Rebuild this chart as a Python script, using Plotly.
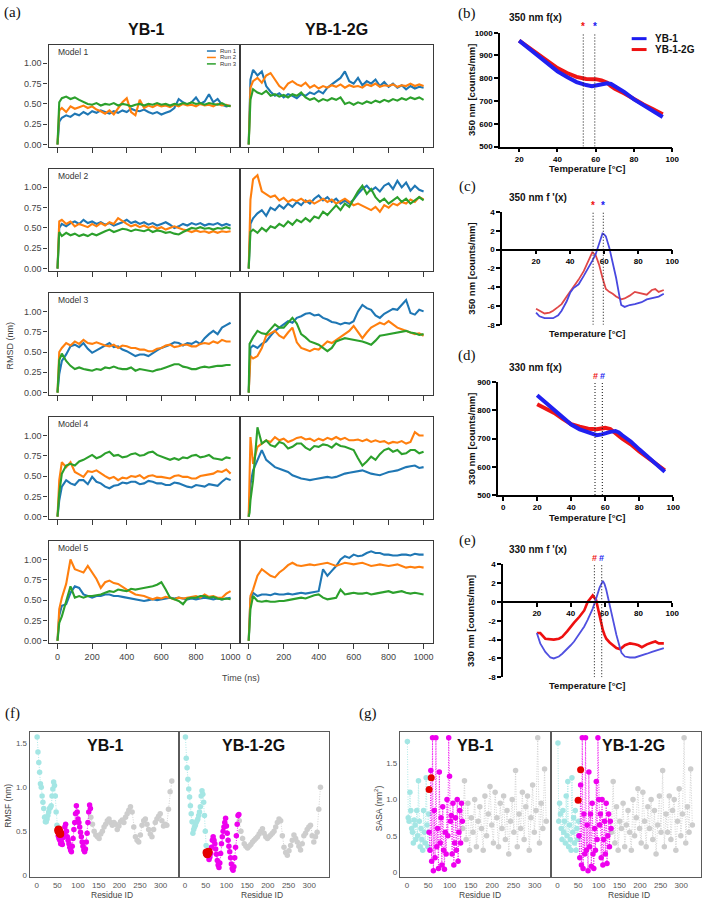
import plotly.graph_objects as go

W, H = 709, 905
SANS = "Liberation Sans, Arial, sans-serif"
SERIF = "Liberation Serif, Times New Roman, serif"

# ===================== (a) RMSD data =====================
T_NS = [0, 5, 10] + list(range(25, 1001, 25))
RUN_NAMES = ["Run 1", "Run 2", "Run 3"]
RUN_COLORS = ["#1f77b4", "#ff7f0e", "#2ca02c"]
MODEL_NAMES = ["Model 1", "Model 2", "Model 3", "Model 4", "Model 5"]
PROTEINS = ["YB-1", "YB-1-2G"]

m1_yb1_run1 = [0.00, 0.22, 0.28, 0.33, 0.36, 0.34, 0.38, 0.36, 0.40, 0.37, 0.41, 0.39, 0.42, 0.40, 0.38, 0.41, 0.39, 0.42, 0.40, 0.44, 0.42, 0.41, 0.43, 0.40, 0.38, 0.40, 0.37, 0.39, 0.41, 0.45, 0.56, 0.52, 0.49, 0.52, 0.58, 0.50, 0.53, 0.62, 0.52, 0.56, 0.49, 0.47, 0.48]
m1_yb1_run2 = [0.00, 0.30, 0.42, 0.45, 0.40, 0.47, 0.44, 0.46, 0.48, 0.45, 0.47, 0.43, 0.41, 0.38, 0.42, 0.37, 0.45, 0.52, 0.57, 0.40, 0.36, 0.55, 0.45, 0.48, 0.46, 0.49, 0.47, 0.48, 0.46, 0.49, 0.47, 0.50, 0.48, 0.49, 0.47, 0.50, 0.48, 0.49, 0.47, 0.50, 0.48, 0.49, 0.47]
m1_yb1_run3 = [0.00, 0.35, 0.52, 0.57, 0.59, 0.56, 0.58, 0.55, 0.52, 0.50, 0.49, 0.51, 0.48, 0.50, 0.49, 0.51, 0.48, 0.50, 0.49, 0.47, 0.49, 0.50, 0.48, 0.50, 0.49, 0.51, 0.49, 0.50, 0.48, 0.50, 0.49, 0.51, 0.50, 0.52, 0.50, 0.51, 0.49, 0.51, 0.50, 0.49, 0.51, 0.48, 0.47]
m1_2g_run1 = [0.00, 0.45, 0.80, 0.92, 0.85, 0.90, 0.72, 0.65, 0.60, 0.63, 0.58, 0.62, 0.60, 0.57, 0.62, 0.60, 0.64, 0.62, 0.66, 0.63, 0.70, 0.74, 0.78, 0.82, 0.90, 0.78, 0.75, 0.82, 0.73, 0.78, 0.75, 0.80, 0.72, 0.77, 0.71, 0.75, 0.70, 0.73, 0.68, 0.72, 0.69, 0.71, 0.70]
m1_2g_run2 = [0.00, 0.35, 0.70, 0.78, 0.82, 0.76, 0.85, 0.88, 0.80, 0.72, 0.68, 0.75, 0.78, 0.74, 0.72, 0.76, 0.70, 0.73, 0.69, 0.72, 0.70, 0.73, 0.71, 0.74, 0.70, 0.73, 0.71, 0.72, 0.70, 0.74, 0.72, 0.75, 0.71, 0.73, 0.72, 0.74, 0.71, 0.73, 0.72, 0.75, 0.72, 0.74, 0.72]
m1_2g_run3 = [0.00, 0.40, 0.55, 0.68, 0.64, 0.62, 0.66, 0.60, 0.62, 0.59, 0.61, 0.58, 0.62, 0.60, 0.64, 0.58, 0.55, 0.57, 0.53, 0.56, 0.54, 0.57, 0.55, 0.58, 0.50, 0.52, 0.49, 0.52, 0.50, 0.53, 0.51, 0.54, 0.52, 0.55, 0.53, 0.56, 0.54, 0.57, 0.55, 0.58, 0.56, 0.58, 0.55]

m2_yb1_run1 = [0.00, 0.35, 0.50, 0.55, 0.52, 0.56, 0.58, 0.55, 0.60, 0.56, 0.58, 0.55, 0.57, 0.54, 0.56, 0.53, 0.55, 0.57, 0.60, 0.56, 0.58, 0.55, 0.57, 0.54, 0.56, 0.53, 0.55, 0.57, 0.54, 0.50, 0.52, 0.55, 0.53, 0.56, 0.54, 0.56, 0.53, 0.55, 0.54, 0.56, 0.53, 0.55, 0.53]
m2_yb1_run2 = [0.00, 0.45, 0.58, 0.60, 0.55, 0.58, 0.52, 0.55, 0.53, 0.51, 0.55, 0.52, 0.56, 0.53, 0.57, 0.55, 0.62, 0.58, 0.55, 0.52, 0.54, 0.51, 0.53, 0.50, 0.52, 0.49, 0.51, 0.48, 0.50, 0.52, 0.50, 0.48, 0.47, 0.45, 0.47, 0.45, 0.46, 0.44, 0.46, 0.44, 0.46, 0.45, 0.46]
m2_yb1_run3 = [0.00, 0.30, 0.45, 0.40, 0.44, 0.41, 0.43, 0.40, 0.42, 0.40, 0.43, 0.41, 0.44, 0.46, 0.48, 0.45, 0.47, 0.49, 0.48, 0.46, 0.48, 0.47, 0.46, 0.48, 0.45, 0.47, 0.46, 0.44, 0.45, 0.43, 0.42, 0.45, 0.48, 0.50, 0.49, 0.51, 0.49, 0.50, 0.48, 0.50, 0.49, 0.51, 0.49]
m2_2g_run1 = [0.00, 0.35, 0.55, 0.62, 0.68, 0.72, 0.65, 0.75, 0.72, 0.78, 0.74, 0.80, 0.76, 0.82, 0.78, 0.84, 0.80, 0.86, 0.90, 0.84, 0.88, 0.82, 0.86, 0.80, 0.84, 0.80, 0.85, 0.92, 0.98, 1.02, 0.96, 1.00, 0.95, 1.02, 1.05, 0.98, 1.08, 1.00, 1.06, 0.96, 1.02, 0.97, 0.95]
m2_2g_run2 = [0.00, 0.50, 0.85, 1.10, 1.15, 0.95, 0.92, 0.88, 0.90, 0.84, 0.87, 0.82, 0.85, 0.83, 0.86, 0.82, 0.84, 0.80, 0.83, 0.86, 0.82, 0.85, 0.80, 0.83, 0.86, 0.82, 0.78, 0.80, 0.77, 0.74, 0.72, 0.76, 0.70, 0.78, 0.75, 0.80, 0.78, 0.82, 0.80, 0.85, 0.82, 0.88, 0.85]
m2_2g_run3 = [0.00, 0.30, 0.45, 0.48, 0.44, 0.50, 0.46, 0.52, 0.50, 0.55, 0.52, 0.58, 0.54, 0.60, 0.57, 0.62, 0.58, 0.64, 0.62, 0.70, 0.66, 0.72, 0.78, 0.72, 0.80, 0.76, 0.85, 0.95, 1.02, 0.92, 0.98, 0.88, 0.82, 0.86, 0.80, 0.84, 0.88, 0.82, 0.86, 0.80, 0.84, 0.88, 0.84]

m3_yb1_run1 = [0.00, 0.18, 0.23, 0.39, 0.47, 0.57, 0.59, 0.56, 0.61, 0.54, 0.49, 0.52, 0.55, 0.58, 0.61, 0.56, 0.57, 0.53, 0.51, 0.48, 0.45, 0.47, 0.47, 0.45, 0.49, 0.52, 0.55, 0.57, 0.59, 0.62, 0.61, 0.58, 0.61, 0.60, 0.63, 0.60, 0.67, 0.72, 0.76, 0.72, 0.80, 0.83, 0.86]
m3_yb1_run2 = [0.00, 0.35, 0.50, 0.55, 0.61, 0.58, 0.63, 0.60, 0.65, 0.61, 0.60, 0.62, 0.60, 0.58, 0.57, 0.59, 0.55, 0.58, 0.57, 0.55, 0.55, 0.53, 0.53, 0.51, 0.51, 0.54, 0.55, 0.58, 0.59, 0.56, 0.57, 0.59, 0.59, 0.57, 0.57, 0.60, 0.61, 0.60, 0.63, 0.61, 0.65, 0.63, 0.63]
m3_yb1_run3 = [0.00, 0.27, 0.40, 0.48, 0.39, 0.33, 0.29, 0.31, 0.29, 0.28, 0.27, 0.29, 0.28, 0.31, 0.30, 0.32, 0.30, 0.29, 0.29, 0.31, 0.27, 0.29, 0.28, 0.27, 0.26, 0.28, 0.29, 0.31, 0.33, 0.35, 0.35, 0.32, 0.31, 0.29, 0.29, 0.31, 0.32, 0.31, 0.32, 0.33, 0.33, 0.34, 0.34]
m3_2g_run1 = [0.00, 0.40, 0.55, 0.58, 0.55, 0.60, 0.63, 0.70, 0.76, 0.80, 0.84, 0.88, 0.86, 0.92, 0.94, 0.97, 0.98, 0.95, 0.96, 0.92, 0.90, 0.87, 0.86, 0.84, 0.86, 0.85, 0.88, 1.00, 1.08, 1.04, 1.02, 0.95, 0.92, 0.97, 1.00, 1.03, 1.02, 1.08, 1.14, 0.98, 0.96, 1.02, 1.00]
m3_2g_run2 = [0.00, 0.35, 0.45, 0.42, 0.45, 0.55, 0.70, 0.73, 0.76, 0.70, 0.67, 0.74, 0.80, 0.62, 0.55, 0.53, 0.51, 0.54, 0.53, 0.58, 0.63, 0.61, 0.65, 0.68, 0.72, 0.76, 0.82, 0.74, 0.67, 0.74, 0.80, 0.83, 0.86, 0.84, 0.88, 0.84, 0.80, 0.78, 0.76, 0.74, 0.72, 0.73, 0.70]
m3_2g_run3 = [0.00, 0.60, 0.62, 0.68, 0.76, 0.73, 0.72, 0.78, 0.84, 0.80, 0.80, 0.86, 0.92, 0.85, 0.72, 0.68, 0.63, 0.61, 0.59, 0.55, 0.51, 0.55, 0.63, 0.65, 0.67, 0.66, 0.65, 0.64, 0.63, 0.61, 0.59, 0.64, 0.70, 0.71, 0.72, 0.73, 0.74, 0.75, 0.76, 0.74, 0.73, 0.71, 0.72]

m4_yb1_run1 = [0.00, 0.12, 0.20, 0.37, 0.45, 0.41, 0.39, 0.45, 0.45, 0.40, 0.49, 0.43, 0.41, 0.37, 0.35, 0.38, 0.39, 0.42, 0.41, 0.43, 0.43, 0.40, 0.41, 0.44, 0.43, 0.41, 0.41, 0.39, 0.39, 0.42, 0.41, 0.39, 0.37, 0.36, 0.39, 0.38, 0.37, 0.40, 0.39, 0.38, 0.43, 0.47, 0.45]
m4_yb1_run2 = [0.00, 0.30, 0.45, 0.67, 0.61, 0.67, 0.55, 0.52, 0.49, 0.56, 0.55, 0.57, 0.53, 0.50, 0.47, 0.49, 0.45, 0.48, 0.47, 0.50, 0.49, 0.51, 0.47, 0.50, 0.51, 0.49, 0.49, 0.48, 0.47, 0.50, 0.51, 0.49, 0.49, 0.47, 0.47, 0.50, 0.51, 0.52, 0.53, 0.56, 0.55, 0.58, 0.53]
m4_yb1_run3 = [0.00, 0.15, 0.29, 0.53, 0.63, 0.65, 0.63, 0.68, 0.70, 0.73, 0.76, 0.72, 0.74, 0.78, 0.80, 0.75, 0.76, 0.73, 0.74, 0.77, 0.78, 0.75, 0.76, 0.79, 0.80, 0.76, 0.74, 0.72, 0.70, 0.72, 0.70, 0.73, 0.72, 0.75, 0.76, 0.73, 0.74, 0.76, 0.72, 0.71, 0.70, 0.73, 0.72]
m4_2g_run1 = [0.00, 0.20, 0.40, 0.57, 0.70, 0.82, 0.70, 0.65, 0.61, 0.59, 0.57, 0.55, 0.51, 0.49, 0.47, 0.46, 0.45, 0.46, 0.47, 0.48, 0.49, 0.48, 0.49, 0.51, 0.53, 0.54, 0.55, 0.56, 0.57, 0.55, 0.53, 0.52, 0.51, 0.53, 0.55, 0.56, 0.57, 0.59, 0.61, 0.62, 0.63, 0.60, 0.61]
m4_2g_run2 = [0.00, 0.50, 0.98, 0.65, 0.86, 0.90, 0.94, 0.92, 0.98, 0.94, 0.96, 0.92, 0.94, 0.97, 0.98, 0.95, 0.96, 0.93, 0.96, 0.94, 0.97, 0.95, 0.98, 0.95, 0.97, 0.94, 0.94, 0.95, 0.93, 0.95, 0.92, 0.94, 0.92, 0.93, 0.90, 0.92, 0.91, 0.93, 0.90, 0.92, 1.04, 1.00, 1.00]
m4_2g_run3 = [0.00, 0.05, 0.20, 0.45, 1.10, 0.90, 0.94, 0.88, 0.86, 0.92, 0.90, 0.84, 0.86, 0.90, 0.90, 0.85, 0.82, 0.87, 0.86, 0.89, 0.88, 0.85, 0.90, 0.87, 0.86, 0.84, 0.82, 0.72, 0.63, 0.68, 0.74, 0.70, 0.77, 0.82, 0.84, 0.80, 0.82, 0.77, 0.78, 0.82, 0.82, 0.78, 0.80]

m5_yb1_run1 = [0.00, 0.20, 0.31, 0.43, 0.45, 0.59, 0.67, 0.65, 0.57, 0.55, 0.53, 0.55, 0.55, 0.57, 0.57, 0.55, 0.55, 0.54, 0.53, 0.52, 0.51, 0.50, 0.49, 0.50, 0.51, 0.50, 0.51, 0.52, 0.53, 0.52, 0.53, 0.52, 0.51, 0.52, 0.51, 0.52, 0.53, 0.52, 0.51, 0.52, 0.51, 0.52, 0.53]
m5_yb1_run2 = [0.00, 0.25, 0.39, 0.53, 0.70, 1.00, 0.88, 0.86, 0.84, 0.92, 0.84, 0.76, 0.65, 0.72, 0.74, 0.71, 0.70, 0.66, 0.63, 0.60, 0.57, 0.56, 0.55, 0.53, 0.51, 0.53, 0.52, 0.54, 0.53, 0.51, 0.53, 0.52, 0.53, 0.54, 0.55, 0.53, 0.57, 0.54, 0.55, 0.53, 0.53, 0.58, 0.61]
m5_yb1_run3 = [0.00, 0.15, 0.22, 0.30, 0.47, 0.67, 0.53, 0.55, 0.53, 0.55, 0.55, 0.56, 0.57, 0.59, 0.61, 0.60, 0.63, 0.62, 0.61, 0.64, 0.63, 0.64, 0.65, 0.66, 0.67, 0.69, 0.72, 0.63, 0.53, 0.51, 0.49, 0.45, 0.52, 0.53, 0.53, 0.55, 0.55, 0.53, 0.54, 0.52, 0.51, 0.52, 0.51]
m5_2g_run1 = [0.00, 0.40, 0.52, 0.59, 0.55, 0.57, 0.57, 0.56, 0.58, 0.57, 0.57, 0.58, 0.57, 0.58, 0.59, 0.58, 0.59, 0.60, 0.61, 0.88, 0.80, 0.86, 0.92, 1.00, 1.04, 1.02, 1.06, 1.04, 1.05, 1.08, 1.10, 1.08, 1.08, 1.06, 1.06, 1.05, 1.05, 1.06, 1.06, 1.05, 1.07, 1.06, 1.06]
m5_2g_run2 = [0.00, 0.40, 0.55, 0.63, 0.80, 0.88, 0.84, 0.80, 0.78, 0.84, 0.88, 0.93, 0.96, 0.93, 0.92, 0.93, 0.94, 0.93, 0.94, 0.95, 0.96, 0.94, 0.92, 0.94, 0.96, 0.95, 0.94, 0.95, 0.96, 0.94, 0.92, 0.93, 0.94, 0.93, 0.92, 0.93, 0.94, 0.92, 0.90, 0.91, 0.90, 0.91, 0.90]
m5_2g_run3 = [0.00, 0.30, 0.39, 0.55, 0.49, 0.48, 0.49, 0.48, 0.48, 0.49, 0.49, 0.50, 0.51, 0.52, 0.53, 0.52, 0.54, 0.56, 0.57, 0.53, 0.51, 0.52, 0.53, 0.63, 0.57, 0.58, 0.59, 0.58, 0.58, 0.59, 0.57, 0.58, 0.59, 0.60, 0.61, 0.59, 0.60, 0.61, 0.59, 0.58, 0.59, 0.58, 0.57]

RMSD_TICKS = [0, 0.25, 0.5, 0.75, 1.0]
TIME_TICKS = [0, 200, 400, 600, 800, 1000]

# ===================== (b)-(e) nanoDSF data =====================
T_FX = [20, 25, 30, 35, 40, 45, 50, 55, 58, 60, 63, 66, 68, 70, 75, 80, 85, 90, 95]
f350_yb1 = [965, 930, 896, 862, 830, 806, 783, 770, 765, 768, 774, 778, 775, 765, 739, 707, 681, 656, 630]
f350_2g = [965, 934, 903, 873, 845, 823, 806, 797, 797, 796, 791, 780, 765, 754, 733, 707, 685, 664, 642]
f330_yb1 = [854, 828, 802, 775, 750, 733, 721, 712, 715, 719, 724, 727, 722, 712, 690, 662, 636, 610, 583]
f330_2g = [822, 806, 791, 770, 751, 742, 735, 733, 736, 738, 734, 722, 710, 700, 680, 655, 633, 612, 588]

T_DFX = [20, 22, 25, 28, 30, 33, 35, 38, 40, 42, 45, 48, 50, 52, 53, 55, 57, 59, 60, 61, 63, 65, 67, 69, 70, 72, 75, 78, 80, 82, 85, 88, 90, 92, 95]
d350_2g = [-6.3, -6.5, -6.8, -6.7, -6.5, -6.1, -5.8, -5.0, -4.5, -4.0, -3.2, -2.3, -1.5, -0.6, -0.3, -0.6, -1.6, -3.0, -3.6, -4.2, -4.5, -4.7, -5.0, -5.2, -5.3, -5.2, -4.9, -4.5, -4.6, -4.7, -4.8, -4.3, -4.2, -4.5, -4.3]
d350_yb1 = [-6.7, -7.1, -7.3, -7.3, -7.3, -7.0, -6.5, -5.5, -4.6, -4.1, -3.7, -2.8, -2.2, -1.5, -1.2, -0.5, 0.6, 1.7, 1.6, 1.4, 0.2, -1.3, -3.0, -5.0, -5.9, -6.1, -5.9, -5.8, -5.7, -5.6, -5.3, -5.2, -5.1, -5.0, -4.7]
d330_2g = [-3.3, -3.3, -3.9, -4.0, -4.0, -3.9, -3.7, -3.1, -2.6, -2.2, -1.6, -0.9, 0.0, 0.5, 0.7, 0.2, -1.5, -3.0, -3.5, -3.9, -4.3, -4.6, -4.9, -5.0, -4.9, -4.6, -4.4, -4.5, -4.6, -4.8, -4.5, -4.3, -4.2, -4.4, -4.4]
d330_yb1 = [-3.3, -4.4, -5.3, -5.9, -6.0, -5.8, -5.5, -5.0, -4.6, -4.2, -3.4, -2.6, -1.9, -1.1, -0.7, 0.35, 1.5, 2.25, 1.9, 1.3, -0.4, -2.0, -3.5, -4.8, -5.4, -5.8, -5.9, -5.9, -5.8, -5.7, -5.5, -5.3, -5.2, -5.1, -4.9]

TM350 = {"YB-1-2G": 53.5, "YB-1": 59.5}
TM330 = {"YB-1-2G": 54.0, "YB-1": 58.3}
DSF_COLORS = {"YB-1": "#1c1cf0", "YB-1-2G": "#ee1111"}

# ===================== (f) RMSF and (g) SASA data =====================
RES_CYAN = list(range(1, 52, 2))
RES_MAG = list(range(52, 131, 2))
RES_GRAY = list(range(131, 328, 4))
RES_RED_RMSF = [52, 53, 54, 55, 56, 57]

rmsf_yb1_cyan = [1.57, 1.40, 1.28, 1.17, 1.04, 1.00, 0.90, 0.83, 0.76, 0.66, 0.61, 0.61, 0.64, 0.68, 0.72, 0.76, 0.77, 0.79, 0.90, 0.98, 1.06, 1.02, 0.90, 0.72, 0.57, 0.49]
rmsf_yb1_mag = [0.45, 0.42, 0.40, 0.36, 0.38, 0.35, 0.43, 0.48, 0.55, 0.58, 0.50, 0.44, 0.40, 0.36, 0.32, 0.29, 0.27, 0.33, 0.42, 0.52, 0.60, 0.70, 0.79, 0.72, 0.64, 0.60, 0.55, 0.49, 0.44, 0.38, 0.33, 0.29, 0.27, 0.30, 0.38, 0.48, 0.60, 0.72, 0.80, 0.76]
rmsf_yb1_gray = [0.66, 0.58, 0.50, 0.46, 0.44, 0.42, 0.47, 0.50, 0.55, 0.58, 0.62, 0.64, 0.60, 0.57, 0.60, 0.58, 0.52, 0.56, 0.61, 0.63, 0.60, 0.66, 0.70, 0.74, 0.78, 0.72, 0.55, 0.44, 0.40, 0.38, 0.46, 0.57, 0.62, 0.64, 0.58, 0.52, 0.47, 0.44, 0.52, 0.60, 0.64, 0.67, 0.70, 0.62, 0.56, 0.58, 0.57, 0.75, 0.95, 1.07]
rmsf_yb1_red = [0.51, 0.52, 0.50, 0.49, 0.48, 0.47]

rmsf_2g_cyan = [1.57, 1.33, 1.22, 1.09, 0.98, 0.89, 0.79, 0.70, 0.61, 0.48, 0.52, 0.55, 0.57, 0.60, 0.62, 0.64, 0.68, 0.72, 0.78, 0.90, 0.96, 0.92, 0.83, 0.68, 0.50, 0.34]
rmsf_2g_mag = [0.27, 0.25, 0.22, 0.18, 0.21, 0.25, 0.32, 0.40, 0.44, 0.40, 0.36, 0.30, 0.24, 0.17, 0.12, 0.09, 0.14, 0.25, 0.36, 0.44, 0.50, 0.55, 0.60, 0.65, 0.56, 0.48, 0.40, 0.33, 0.27, 0.20, 0.13, 0.08, 0.06, 0.10, 0.20, 0.32, 0.45, 0.58, 0.68, 0.69]
rmsf_2g_gray = [0.62, 0.50, 0.42, 0.36, 0.33, 0.31, 0.33, 0.35, 0.38, 0.40, 0.42, 0.44, 0.47, 0.50, 0.53, 0.48, 0.44, 0.42, 0.44, 0.46, 0.48, 0.50, 0.55, 0.60, 0.64, 0.62, 0.45, 0.32, 0.26, 0.23, 0.28, 0.34, 0.40, 0.46, 0.42, 0.38, 0.33, 0.29, 0.36, 0.45, 0.48, 0.52, 0.55, 0.57, 0.45, 0.38, 0.44, 0.49, 0.75, 1.00]
rmsf_2g_red = [0.26, 0.25, 0.24, 0.25, 0.26, 0.27]

sasa_yb1_cyan = [1.80, 0.75, 0.70, 1.10, 0.85, 0.60, 0.55, 0.40, 0.72, 0.65, 0.45, 0.85, 0.50, 1.26, 0.70, 0.35, 0.60, 0.45, 0.30, 0.85, 0.55, 0.40, 1.30, 0.65, 0.35, 0.80]
sasa_yb1_mag = [0.55, 0.30, 1.40, 0.15, 1.85, 0.02, 0.85, 0.20, 1.85, 0.35, 0.60, 0.05, 1.38, 0.40, 0.75, 0.10, 0.90, 0.30, 0.04, 0.55, 0.25, 1.00, 0.50, 1.85, 1.32, 0.70, 0.78, 0.25, 0.95, 0.10, 0.40, 0.75, 0.30, 1.00, 0.15, 0.55, 0.85, 0.40, 0.95, 0.70]
sasa_yb1_gray = [0.60, 1.26, 0.45, 0.95, 0.30, 0.75, 0.55, 1.00, 0.35, 0.70, 0.90, 0.60, 0.30, 1.05, 0.50, 0.80, 1.18, 0.65, 0.40, 1.10, 0.75, 0.35, 0.95, 0.60, 1.05, 0.45, 0.85, 0.25, 0.70, 1.00, 0.55, 1.40, 0.35, 0.80, 0.60, 1.10, 0.45, 0.90, 1.05, 0.30, 0.75, 1.20, 0.55, 0.85, 1.85, 0.40, 0.95, 0.60, 1.42, 0.70]
sasa_yb1_red_res = [52, 57]
sasa_yb1_red = [1.14, 1.30]

sasa_2g_cyan = [1.78, 0.70, 0.95, 0.80, 0.60, 0.45, 0.85, 0.55, 0.70, 0.40, 1.05, 0.50, 1.25, 0.35, 0.65, 0.45, 0.30, 1.30, 0.55, 0.75, 0.40, 0.85, 0.30, 0.60, 0.45, 0.70]
sasa_2g_mag = [0.50, 0.20, 1.20, 0.10, 1.85, 0.05, 0.80, 0.25, 1.85, 0.30, 0.65, 0.02, 1.38, 0.35, 0.80, 0.08, 0.95, 0.25, 0.05, 0.60, 0.30, 1.25, 0.45, 1.85, 1.00, 0.65, 0.80, 0.20, 1.00, 0.10, 0.45, 0.70, 0.25, 0.95, 0.12, 0.50, 0.80, 0.35, 0.70, 0.60]
sasa_2g_gray = [0.55, 1.25, 0.40, 0.90, 0.30, 0.70, 0.60, 0.95, 0.35, 0.65, 0.85, 0.55, 0.30, 1.00, 0.50, 0.75, 1.15, 0.60, 0.40, 1.10, 0.70, 0.35, 0.90, 0.60, 1.00, 0.45, 0.85, 0.25, 0.65, 1.05, 0.55, 1.40, 0.35, 0.80, 0.55, 1.05, 0.45, 0.85, 1.00, 0.30, 0.70, 1.15, 0.50, 0.80, 1.85, 0.40, 0.90, 0.55, 1.42, 0.65]
sasa_2g_red_res = [50, 56]
sasa_2g_red = [0.99, 1.41]

SEG_COLORS = {"cyan": "#a4e6e4", "mag": "#ee00ee", "gray": "#cdcdcd", "red": "#e40000"}

# ===================== helpers =====================
def px_x(p):
    return p / W


def px_y(p):
    return 1 - p / H


fig = go.Figure()
layout = dict(width=W, height=H, margin=dict(l=0, r=0, t=0, b=0),
              paper_bgcolor="white", plot_bgcolor="white", showlegend=False)
annotations = []
shapes = []
n_ax = [0]


def add_axes(x0, x1, y0, y1, xr, yr, xo, yo):
    n_ax[0] += 1
    s = "" if n_ax[0] == 1 else str(n_ax[0])
    xa = dict(domain=[px_x(x0), px_x(x1)], range=xr, anchor="y" + s,
              showgrid=False, zeroline=False)
    xa.update(xo)
    ya = dict(domain=[px_y(y1), px_y(y0)], range=yr, anchor="x" + s,
              showgrid=False, zeroline=False)
    ya.update(yo)
    layout["xaxis" + s] = xa
    layout["yaxis" + s] = ya
    return "x" + s, "y" + s


def text(x, y, s, size, color="#222", family=SANS, xanchor="center",
         yanchor="middle", angle=0):
    annotations.append(dict(x=px_x(x), y=px_y(y), xref="paper", yref="paper",
                            text=s, showarrow=False, textangle=angle,
                            font=dict(family=family, size=size, color=color),
                            xanchor=xanchor, yanchor=yanchor))


# ===================== (a) RMSD =====================
rmsd = [
    [[m1_yb1_run1, m1_yb1_run2, m1_yb1_run3], [m1_2g_run1, m1_2g_run2, m1_2g_run3]],
    [[m2_yb1_run1, m2_yb1_run2, m2_yb1_run3], [m2_2g_run1, m2_2g_run2, m2_2g_run3]],
    [[m3_yb1_run1, m3_yb1_run2, m3_yb1_run3], [m3_2g_run1, m3_2g_run2, m3_2g_run3]],
    [[m4_yb1_run1, m4_yb1_run2, m4_yb1_run3], [m4_2g_run1, m4_2g_run2, m4_2g_run3]],
    [[m5_yb1_run1, m5_yb1_run2, m5_yb1_run3], [m5_2g_run1, m5_2g_run2, m5_2g_run3]],
]
A_LINE = dict(showline=True, mirror=True, linecolor="#3a3a3a", linewidth=1.2)
A_TF = dict(family=SANS, size=9, color="#444")
SIDES = [(49, 242), (242, 437)]
for k in range(5):
    top = 41 + 125.3 * k
    bot = top + 103
    for side in range(2):
        x0, x1 = SIDES[side]
        xo = dict(A_LINE, ticks="outside", ticklen=5, tickwidth=1, tickcolor="#3a3a3a",
                  tickvals=TIME_TICKS, ticktext=[str(t) for t in TIME_TICKS],
                  showticklabels=(k == 4), tickfont=A_TF)
        if side == 0:
            yo = dict(A_LINE, ticks="outside", ticklen=4, tickwidth=1, tickcolor="#3a3a3a",
                      tickvals=RMSD_TICKS, ticktext=["%.2f" % v for v in RMSD_TICKS],
                      tickfont=A_TF)
        else:
            yo = dict(A_LINE, ticks="", showticklabels=False)
        xa, ya = add_axes(x0, x1, top, bot, [-52, 1052], [-0.025, 1.23], xo, yo)
        for r in range(3):
            fig.add_trace(go.Scatter(x=T_NS, y=rmsd[k][side][r], xaxis=xa, yaxis=ya,
                                     mode="lines", name=RUN_NAMES[r],
                                     line=dict(color=RUN_COLORS[r], width=2.1)))
    text(57, top + 7.5, MODEL_NAMES[k], 8.5, color="#333", xanchor="left")

text(13, 9, "(a)", 15, color="#111", family=SERIF)
text(148, 26, "<b>YB-1</b>", 16, color="#111")
text(340, 26, "<b>YB-1-2G</b>", 16, color="#111")
text(243, 681, "Time (ns)", 9, color="#444")
text(10, 345, "RMSD (nm)", 9, color="#444", angle=-90)
# run legend
for r in range(3):
    ly = 47.5 + 6.5 * r
    shapes.append(dict(type="line", xref="paper", yref="paper", x0=px_x(209), x1=px_x(218),
                       y0=px_y(ly), y1=px_y(ly), line=dict(color=RUN_COLORS[r], width=1.5)))
    text(220, ly, RUN_NAMES[r], 6, color="#333", xanchor="left")

# ===================== (b)-(e) nanoDSF =====================
B_LINE = dict(showline=True, mirror=False, linecolor="black", linewidth=1.5,
              ticks="outside", ticklen=4, tickwidth=1.5, tickcolor="black",
              tickfont=dict(family=SANS, size=8, color="black", weight="bold"))


def dsf_panel(x0, x1, y0, y1, xr, yr, xticks, yticks, cross_zero, yb1, g2, tm, mark,
              width_y, width_r, col_y, col_r, letter, letter_y, title, ytitle, xtitle_y):
    xo = dict(B_LINE, tickvals=xticks, ticktext=[str(t) for t in xticks])
    if cross_zero:
        zpos = y0 + (yr[1] - 0) / (yr[1] - yr[0]) * (y1 - y0)
        xo.update(anchor="free", position=px_y(zpos))
    yo = dict(B_LINE, tickvals=yticks, ticktext=[str(t) for t in yticks])
    xa, ya = add_axes(x0, x1, y0, y1, xr, yr, xo, yo)
    t_grid = T_FX if not cross_zero else T_DFX
    fig.add_trace(go.Scatter(x=t_grid, y=g2, xaxis=xa, yaxis=ya, mode="lines",
                             name="YB-1-2G", line=dict(color=col_r, width=width_r)))
    fig.add_trace(go.Scatter(x=t_grid, y=yb1, xaxis=xa, yaxis=ya, mode="lines",
                             name="YB-1", line=dict(color=col_y, width=width_y)))
    for prot in ["YB-1-2G", "YB-1"]:
        fig.add_trace(go.Scatter(x=[tm[prot], tm[prot]], y=[yr[0], yr[1]], xaxis=xa, yaxis=ya,
                                 mode="lines", line=dict(color="#222", width=1.1, dash="1px,2px"),
                                 hoverinfo="skip"))
        annotations.append(dict(x=tm[prot], y=yr[1], xref=xa, yref=ya, text="<b>%s</b>" % mark,
                                showarrow=False, yanchor="bottom", yshift=-1,
                                font=dict(family=SANS, size=9 if mark == "#" else 10,
                                          color=DSF_COLORS[prot])))
    text(472, letter_y, letter, 15, color="#111", family=SERIF)
    text(512, y0 - 15, "<b>%s</b>" % title, 10, color="#111", xanchor="left")
    text(476, (y0 + y1) / 2, "<b>%s</b>" % ytitle, 9.5, color="#111", angle=-90)
    text(593, xtitle_y, "<b>Temperature [°C]</b>", 9.5, color="#111")


dsf_panel(505, 679, 29, 144, [10, 100], [500, 1000], [20, 40, 60, 80, 100],
          [500, 600, 700, 800, 900, 1000], False, f350_yb1, f350_2g, TM350, "*",
          4, 4, "#2020f0", "#ee1515", "(b)", 10, "350 nm f(x)", "350 nm [counts/mm]", 166)
dsf_panel(507, 679, 210, 324, [0, 100], [-8, 4], [20, 40, 60, 80, 100],
          [-8, -6, -4, -2, 0, 2, 4], True, d350_yb1, d350_2g, TM350, "*",
          1.8, 1.8, "#4848e0", "#e04848", "(c)", 184, "350 nm f '(x)", "350 nm [counts/mm]", 333)
dsf_panel(503, 680, 382, 496, [-3, 100], [500, 900], [0, 20, 40, 60, 80, 100],
          [500, 600, 700, 800, 900], False, f330_yb1, f330_2g, TM330, "#",
          4, 4, "#2020f0", "#ee1515", "(d)", 355, "330 nm f(x)", "330 nm [counts/mm]", 519)
dsf_panel(508, 679, 566, 680, [0, 100], [-8, 4], [20, 40, 60, 80, 100],
          [-8, -6, -4, -2, 0, 2, 4], True, d330_yb1, d330_2g, TM330, "#",
          1.8, 2.6, "#5050e0", "#ee1010", "(e)", 542, "330 nm f '(x)", "330 nm [counts/mm]", 688)

# legend of (b)
for i, prot in enumerate(["YB-1", "YB-1-2G"]):
    ly = 35 + 11 * i
    shapes.append(dict(type="line", xref="paper", yref="paper", x0=px_x(638), x1=px_x(653),
                       y0=px_y(ly), y1=px_y(ly), line=dict(color=DSF_COLORS[prot], width=3)))
    text(660, ly, "<b>%s</b>" % prot, 10, color="#111", xanchor="left")

# ===================== (f) RMSF and (g) SASA =====================
F_LINE = dict(showline=True, mirror=True, linecolor="#5a5a5a", linewidth=1.2)
F_TF = dict(family=SANS, size=8, color="#555")
RES_TICKS = [0, 50, 100, 150, 200, 250, 300]


def residue_panel(x0, x1, xr, yr, y_ticks, y_text, show_y, segs, red, red_size):
    xo = dict(F_LINE, ticks="", tickvals=RES_TICKS, ticktext=[str(t) for t in RES_TICKS],
              tickfont=F_TF)
    yo = dict(F_LINE, ticks="", tickvals=y_ticks, ticktext=y_text, tickfont=F_TF,
              showticklabels=show_y)
    xa, ya = add_axes(x0, x1, 735, 882, xr, yr, xo, yo)
    for res, vals, col in segs:
        fig.add_trace(go.Scatter(x=res, y=vals, xaxis=xa, yaxis=ya, mode="lines+markers",
                                 line=dict(color=col, width=0.9, dash="1px,1.5px"),
                                 marker=dict(color=col, size=5.5)))
    fig.add_trace(go.Scatter(x=red[0], y=red[1], xaxis=xa, yaxis=ya, mode="markers",
                             marker=dict(color=SEG_COLORS["red"], size=red_size)))
    return xa, ya


C, M, G = SEG_COLORS["cyan"], SEG_COLORS["mag"], SEG_COLORS["gray"]
residue_panel(30, 181, [-17, 345], [-0.02, 1.63], [0, 0.5, 1.0, 1.5], ["0", "0.5", "1.0", "1.5"], True,
              [(RES_GRAY, rmsf_yb1_gray, G), (RES_CYAN, rmsf_yb1_cyan, C), (RES_MAG, rmsf_yb1_mag, M)],
              (RES_RED_RMSF, rmsf_yb1_red), 8)
residue_panel(181, 332, [-14, 347], [-0.02, 1.63], [0, 0.5, 1.0, 1.5], ["0", "0.5", "1.0", "1.5"], False,
              [(RES_GRAY, rmsf_2g_gray, G), (RES_CYAN, rmsf_2g_cyan, C), (RES_MAG, rmsf_2g_mag, M)],
              (RES_RED_RMSF, rmsf_2g_red), 8)
residue_panel(404, 556, [-16.3, 337], [-0.07, 1.935], [0, 0.5, 1.0, 1.5], ["0", "0.5", "1.0", "1.5"], True,
              [(RES_GRAY, sasa_yb1_gray, G), (RES_CYAN, sasa_yb1_cyan, C), (RES_MAG, sasa_yb1_mag, M)],
              (sasa_yb1_red_res, sasa_yb1_red), 7)
residue_panel(556, 708, [-17, 348], [-0.07, 1.935], [0, 0.5, 1.0, 1.5], ["0", "0.5", "1.0", "1.5"], False,
              [(RES_GRAY, sasa_2g_gray, G), (RES_CYAN, sasa_2g_cyan, C), (RES_MAG, sasa_2g_mag, M)],
              (sasa_2g_red_res, sasa_2g_red), 7)

text(13, 717, "(f)", 15, color="#111", family=SERIF)
text(372, 717, "(g)", 15, color="#111", family=SERIF)
text(107, 749, "<b>YB-1</b>", 16, color="#111")
text(256, 749, "<b>YB-1-2G</b>", 16, color="#111")
text(480, 749, "<b>YB-1</b>", 16, color="#111")
text(640, 749, "<b>YB-1-2G</b>", 16, color="#111")
text(113, 900, "Residue ID", 8.5, color="#444")
text(265, 900, "Residue ID", 8.5, color="#444")
text(485, 900, "Residue ID", 8.5, color="#444")
text(635, 900, "Residue ID", 8.5, color="#444")
text(8, 810, "RMSF (nm)", 8.5, color="#444", angle=-90)
text(383, 812, "SASA (nm<sup>2</sup>)", 8.5, color="#444", angle=-90)

layout["annotations"] = annotations
layout["shapes"] = shapes
fig.update_layout(**layout)
fig.write_html("out.html")
